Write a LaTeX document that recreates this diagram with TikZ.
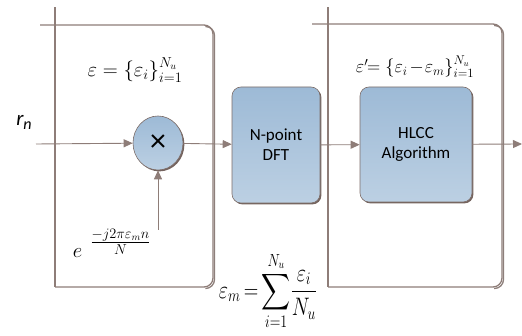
\documentclass[tikz,border=0pt]{standalone}
\usepackage{amsmath}
\usepackage{graphicx}
\usepackage{fontspec}
\setsansfont{Carlito}
\usetikzlibrary{arrows.meta, positioning, shadows, calc, shapes.geometric}
\definecolor{frameGray}{HTML}{8E7D78}
\definecolor{edgeBrown}{HTML}{5C4842}
\definecolor{blockTop}{HTML}{9DBAD6}
\definecolor{blockBot}{HTML}{BCD0E3}
\tikzset{
    blockBox/.style={rectangle, rounded corners=9pt, draw=edgeBrown!80, line width=0.6pt,
        top color=blockTop, bottom color=blockBot,
        drop shadow={shadow xshift=1.4pt, shadow yshift=-1.4pt, fill=edgeBrown, opacity=0.85},
        font=\sffamily\fontsize{17}{20}\selectfont, align=center, inner sep=0pt},
    mixNode/.style={ellipse, draw=edgeBrown!80, line width=0.6pt,
        top color=blockTop, bottom color=blockBot,
        drop shadow={shadow xshift=1.4pt, shadow yshift=-1.4pt, fill=edgeBrown, opacity=0.85},
        minimum width=50pt, minimum height=54pt, inner sep=0pt},
    frameLine/.style={draw=frameGray, line width=1.3pt},
    frameShade/.style={draw=edgeBrown!70, line width=1.3pt},
    sigArrow/.style={draw=frameGray, line width=0.9pt, -{Triangle[length=9pt, width=8pt, fill=frameGray]}},
    mathLabel/.style={inner sep=0pt, font=\fontsize{20}{24}\selectfont}
}

\begin{document}
\begin{tikzpicture}[x=1pt, y=-1pt]
    \useasboundingbox (0,0) rectangle (522,336);

    % Frames (left and right stages)
    \draw[frameShade, rounded corners=9pt] (206,26.5) -- (214.5,26.5) -- (214.5,288.5) -- (206,288.5);
    \draw[frameLine, rounded corners=9pt] (40,25) -- (213,25) -- (213,287) -- (55,287);
    \draw[frameLine] (55,287) -- (55,7);
    \draw[frameShade, rounded corners=9pt] (494,25.5) -- (503.5,25.5) -- (503.5,288.5) -- (494,288.5);
    \draw[frameLine, rounded corners=9pt] (312,24) -- (502,24) -- (502,287) -- (328,287);
    \draw[frameLine] (328,287) -- (328,7);

    % Blocks
    \node[mixNode] (mix) at (158,143) {\sffamily\fontsize{32}{32}\selectfont ×};
    \node[blockBox, minimum width=88pt, minimum height=116pt] (dft) at (276,145) {N-point\\DFT};
    \node[blockBox, minimum width=112pt, minimum height=115pt] (hlcc) at (416,144.5) {HLCC\\Algorithm};

    % Free ends of the connectors
    \coordinate (rIn) at (36,144);
    \coordinate (expIn) at (158,230);
    \coordinate (hlccOut) at (522,144);

    % Signal flow
    \draw[sigArrow] (rIn) -- (mix);
    \draw[sigArrow] (expIn) -- (mix);
    \draw[sigArrow] (mix) -- (dft);
    \draw[sigArrow] (dft) -- (hlcc);
    \draw[sigArrow] (hlcc) -- (hlccOut);

    % Labels
    \node[inner sep=0pt, font=\sffamily\itshape\fontsize{21}{24}\selectfont] (rLabel) at (24,122) {r\raisebox{-4pt}{\fontsize{16}{16}\selectfont n}};
    \node[mathLabel] (epsSet) at (135,70) {$\varepsilon=\{\varepsilon_i\}_{i=1}^{N_u}$};
    \node[mathLabel] (epsPrime) at (415,67) {\scalebox{0.88}{$\varepsilon'\!\!=\{\varepsilon_i\mkern2mu{-}\mkern1mu\varepsilon_m\}_{i=1}^{N_u}$}};
    \node[mathLabel] (expLabel) at (112,243) {$e^{\;\;\textstyle\frac{-j2\pi\varepsilon_m n}{N}}$};
    \node[mathLabel] (epsMean) at (268,291) {\scalebox{0.97}[1.22]{$\displaystyle\varepsilon_m\mkern-2mu=\mkern-2mu\sum_{i=1}^{N_u}\mkern-3mu\frac{\varepsilon_i}{N_u}$}};
\end{tikzpicture}
\end{document}
